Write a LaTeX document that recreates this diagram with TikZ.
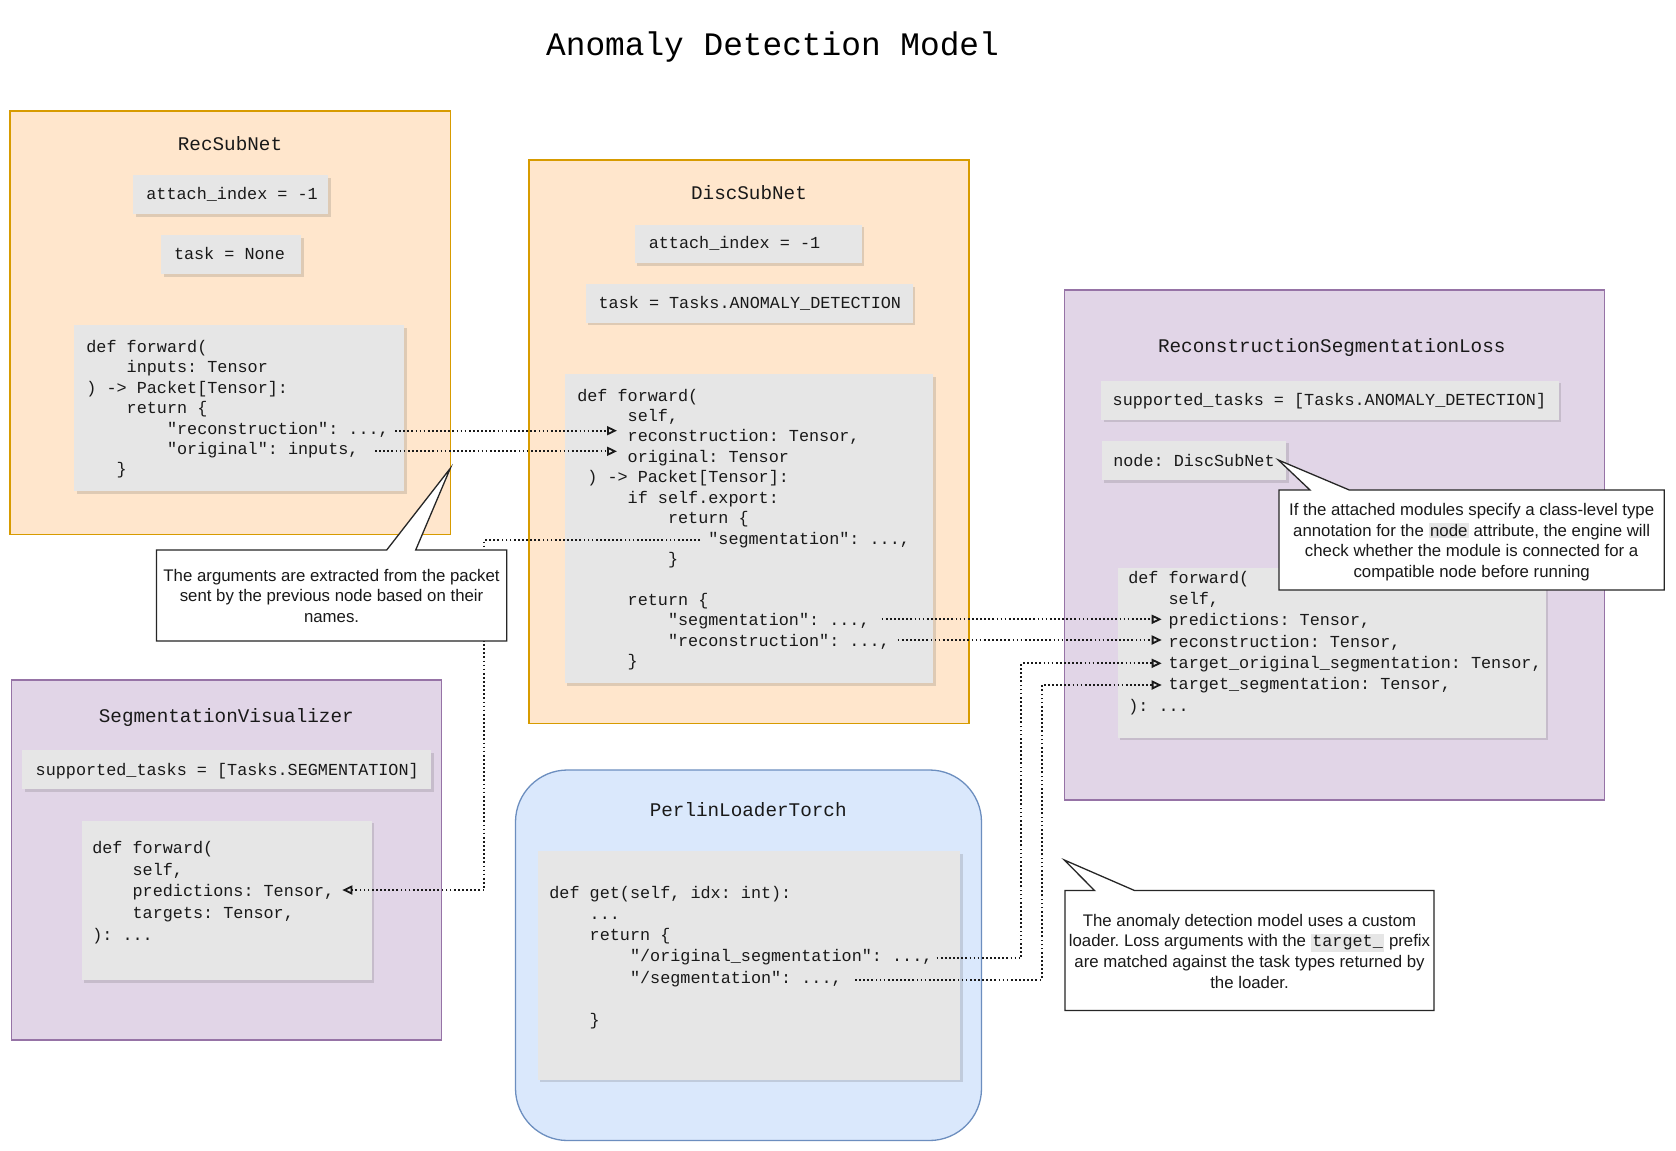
\documentclass[tikz,border=0pt]{standalone}
\usepackage{fontspec}
\setmainfont{Liberation Sans}
\newfontfamily\monof{Liberation Mono}
\usetikzlibrary{arrows.meta,shadows}
\definecolor{peach}{HTML}{FFE6CC}
\definecolor{peachdraw}{HTML}{D79B00}
\definecolor{lilac}{HTML}{E1D5E7}
\definecolor{lilacdraw}{HTML}{9673A6}
\definecolor{sky}{HTML}{DAE8FC}
\definecolor{skydraw}{HTML}{6C8EBF}
\definecolor{codegrey}{HTML}{E6E6E6}
\newlength\cw \setlength\cw{10.08pt}
\newcommand\ind[1]{\hspace*{#1\cw}}
\newcommand\codesz{\fontsize{16.8pt}{20.4pt}\selectfont}
\newcommand\ttlsz{\fontsize{19.3pt}{22pt}\selectfont}
\newcommand\codelines[2]{\vtop{\frenchspacing\baselineskip=#1\lineskiplimit=-20pt\lineskip=0pt #2}}
\newcommand\cl[1]{\hbox{#1}}
\newcommand\cc[2]{\hbox to #1{\hss#2\hss}}
\newcommand\hl[1]{{\setlength\fboxsep{1.5pt}\colorbox{codegrey}{#1}}}
\frenchspacing
\begin{document}
\begin{tikzpicture}[x=1pt,y=-1pt,
  cont/.style={anchor=north west, inner sep=0, outer sep=0, line width=1.3pt},
  gbox/.style={anchor=north west, inner sep=0, outer sep=0, fill=codegrey,
    drop shadow={shadow xshift=2.5pt, shadow yshift=-2.5pt, opacity=0.18, fill=black!70}},
  txt/.style={anchor=base west, inner sep=0, outer sep=0, font=\monof\codesz\frenchspacing, text=black!90},
  ttl/.style={anchor=base, inner sep=0, outer sep=0, font=\monof\ttlsz, text=black!90},
  ctxt/.style={anchor=base west, inner sep=0, outer sep=0, font=\fontsize{16.8pt}{20.5pt}\selectfont\frenchspacing, text=black!90},
  callout/.style={draw=black!85, fill=white, line width=1.3pt, line join=miter},
  conn/.style={line width=1.7pt, dash pattern=on 1.7pt off 2.4pt, draw=black!90},
  tip/.style={-{Triangle[open, length=10pt, width=9pt, line width=1.8pt]}}
]
\useasboundingbox (0,0) rectangle (1676,1151);
\fill[white] (0,0) rectangle (1676,1151);

% title
\node[anchor=base, inner sep=0, font=\monof\fontsize{32.8pt}{36pt}\selectfont] (title) at (772.5,55.7) {Anomaly Detection Model};

% ---------- RecSubNet
\node[cont, fill=peach, draw=peachdraw, minimum width=440.5pt, minimum height=423.3pt] (rec) at (10,111) {};
\node[ttl] (rec-title) at (230,150.6) {RecSubNet};
\node[gbox, minimum width=195pt, minimum height=39pt] (rec-att) at (133,175) {};
\node[txt] (rec-att-t) at (146.4,199.6) {attach\_index = -1};
\node[gbox, minimum width=140pt, minimum height=39pt] (rec-task) at (161,235) {};
\node[txt] (rec-task-t) at (174,259.6) {task = None};
\node[gbox, minimum width=330pt, minimum height=166pt] (rec-code) at (74,325) {};
\node[txt] (rec-code-t) at (86.4,352.4) {\codelines{20.4pt}{%
\cl{def forward(}%
\cl{\ind4inputs: Tensor}%
\cl{) -> Packet[Tensor]:}%
\cl{\ind4return \{}%
\cl{\ind8"reconstruction": ...,}%
\cl{\ind8"original": inputs,}%
\cl{\ind3\}}}};

% ---------- DiscSubNet
\node[cont, fill=peach, draw=peachdraw, minimum width=440pt, minimum height=563.5pt] (disc) at (529,160) {};
\node[ttl] (disc-title) at (749,199.4) {DiscSubNet};
\node[gbox, minimum width=226.6pt, minimum height=38.5pt] (disc-att) at (634.9,224.5) {};
\node[txt] (disc-att-t) at (648.8,248.6) {attach\_index = -1};
\node[gbox, minimum width=327pt, minimum height=38.5pt] (disc-task) at (585.8,284.3) {};
\node[txt] (disc-task-t) at (598.6,308.5) {task = Tasks.ANOMALY\_DETECTION};
\node[gbox, minimum width=368.8pt, minimum height=309.3pt] (disc-code) at (564.5,374) {};
\node[txt] (disc-code-t) at (577.3,401) {\codelines{20.45pt}{%
\cl{def forward(}%
\cl{\ind5self,}%
\cl{\ind5reconstruction: Tensor,}%
\cl{\ind5original: Tensor}%
\cl{\ind1) -> Packet[Tensor]:}%
\cl{\ind5if self.export:}%
\cl{\ind9return \{}%
\cl{\ind{13}"segmentation": ...,}%
\cl{\ind9\}}%
\cl{}%
\cl{\ind5return \{}%
\cl{\ind9"segmentation": ...,}%
\cl{\ind9"reconstruction": ...,}%
\cl{\ind5\}}}};

% ---------- ReconstructionSegmentationLoss
\node[cont, fill=lilac, draw=lilacdraw, minimum width=539.8pt, minimum height=510pt] (rsl) at (1064.6,290) {};
\node[ttl] (rsl-title) at (1331.8,352.3) {ReconstructionSegmentationLoss};
\node[gbox, minimum width=457.5pt, minimum height=39pt] (rsl-sup) at (1101,380.5) {};
\node[txt] (rsl-sup-t) at (1112.7,405.8) {supported\_tasks = [Tasks.ANOMALY\_DETECTION]};
\node[gbox, minimum width=184.3pt, minimum height=39.3pt] (rsl-node) at (1101.7,440.7) {};
\node[txt] (rsl-node-t) at (1113.3,466) {node: DiscSubNet};
\node[gbox, minimum width=428.1pt, minimum height=169.8pt] (rsl-code) at (1117.5,567.7) {};
\node[txt] (rsl-code-t) at (1128.3,583.3) {\codelines{21.3pt}{%
\cl{def forward(}%
\cl{\ind4self,}%
\cl{\ind4predictions: Tensor,}%
\cl{\ind4reconstruction: Tensor,}%
\cl{\ind4target\_original\_segmentation: Tensor,}%
\cl{\ind4target\_segmentation: Tensor,}%
\cl{): ...}}};

% ---------- SegmentationVisualizer
\node[cont, fill=lilac, draw=lilacdraw, minimum width=430.4pt, minimum height=360pt] (seg) at (11.3,680) {};
\node[ttl] (seg-title) at (226.3,722) {SegmentationVisualizer};
\node[gbox, minimum width=409pt, minimum height=39.3pt] (seg-sup) at (22,750) {};
\node[txt] (seg-sup-t) at (35.7,775.3) {supported\_tasks = [Tasks.SEGMENTATION]};
\node[gbox, minimum width=290pt, minimum height=159.3pt] (seg-code) at (81.7,820.7) {};
\node[txt] (seg-code-t) at (92.3,853.7) {\codelines{21.6pt}{%
\cl{def forward(}%
\cl{\ind4self,}%
\cl{\ind4predictions: Tensor,}%
\cl{\ind4targets: Tensor,}%
\cl{): ...}}};

% ---------- PerlinLoaderTorch
\node[cont, fill=sky, draw=skydraw, rounded corners=52pt, minimum width=466pt, minimum height=370.5pt] (perlin) at (515.5,770) {};
\node[ttl] (perlin-title) at (748.2,816) {PerlinLoaderTorch};
\node[gbox, minimum width=422.3pt, minimum height=228.6pt] (perlin-code) at (537.7,851) {};
\node[txt] (perlin-code-t) at (549.4,898) {\codelines{21.3pt}{%
\cl{def get(self, idx: int):}%
\cl{\ind4...}%
\cl{\ind4return \{}%
\cl{\ind8"/original\_segmentation": ...,}%
\cl{\ind8"/segmentation": ...,}%
\cl{}%
\cl{\ind4\}}}};

% ---------- connector end points
\coordinate (rec-o1) at (395,430.7);
\coordinate (rec-o2) at (375,451.3);
\coordinate (disc-i1) at (617,430.7);
\coordinate (disc-i2) at (617,451.3);
\coordinate (disc-oexp) at (700,540);
\coordinate (seg-i1) at (342.3,890);
\coordinate (disc-o1) at (881.7,619.3);
\coordinate (disc-o2) at (897.7,640);
\coordinate (rsl-i1) at (1161.7,619.3);
\coordinate (rsl-i2) at (1161.7,640);
\coordinate (rsl-i3) at (1161.7,663.3);
\coordinate (rsl-i4) at (1161.7,685);
\coordinate (perlin-o1) at (936.7,958.3);
\coordinate (perlin-o2) at (855,980);

\draw[conn,tip] (rec-o1) -- (disc-i1);
\draw[conn,tip] (rec-o2) -- (disc-i2);
\draw[conn,tip] (disc-oexp) -- ++(-215.7,0) |- (seg-i1);
\draw[conn,tip] (disc-o1) -- (rsl-i1);
\draw[conn,tip] (disc-o2) -- (rsl-i2);
\draw[conn,tip] (perlin-o1) -- ++(84.6,0) |- (rsl-i3);
\draw[conn,tip] (perlin-o2) -- ++(186.7,0) |- (rsl-i4);

% ---------- callouts
\draw[callout] (156.4,550) -- (386.7,550) -- (450.3,468.3) -- (415.7,550) -- (506.7,550) -- (506.7,641) -- (156.4,641) -- cycle;
\node[ctxt] (note-args) at (156.4,581) {\codelines{20.5pt}{%
\cc{350.3pt}{The arguments are extracted from the packet}%
\cc{350.3pt}{sent by the previous node based on their}%
\cc{350.3pt}{names.}}};

\draw[callout] (1279,490) -- (1310,490) -- (1278.3,460) -- (1349.3,490) -- (1664.3,490) -- (1664.3,590) -- (1279,590) -- cycle;
\node[ctxt] (note-node) at (1279,515.5) {\codelines{20.7pt}{%
\cc{385.3pt}{If the attached modules specify a class-level type}%
\cc{385.3pt}{annotation for the \hl{node} attribute, the engine will}%
\cc{385.3pt}{check whether the module is connected for a}%
\cc{385.3pt}{compatible node before running}}};

\draw[callout] (1065,890.5) -- (1094.5,890.5) -- (1064.3,860) -- (1134.5,890.5) -- (1434,890.5) -- (1434,1010.5) -- (1065,1010.5) -- cycle;
\node[ctxt] (note-loader) at (1065,926) {\codelines{20.8pt}{%
\cc{369pt}{The anomaly detection model uses a custom}%
\cc{369pt}{loader. Loss arguments with the \hl{\monof target\_} prefix}%
\cc{369pt}{are matched against the task types returned by}%
\cc{369pt}{the loader.}}};
\end{tikzpicture}
\end{document}
